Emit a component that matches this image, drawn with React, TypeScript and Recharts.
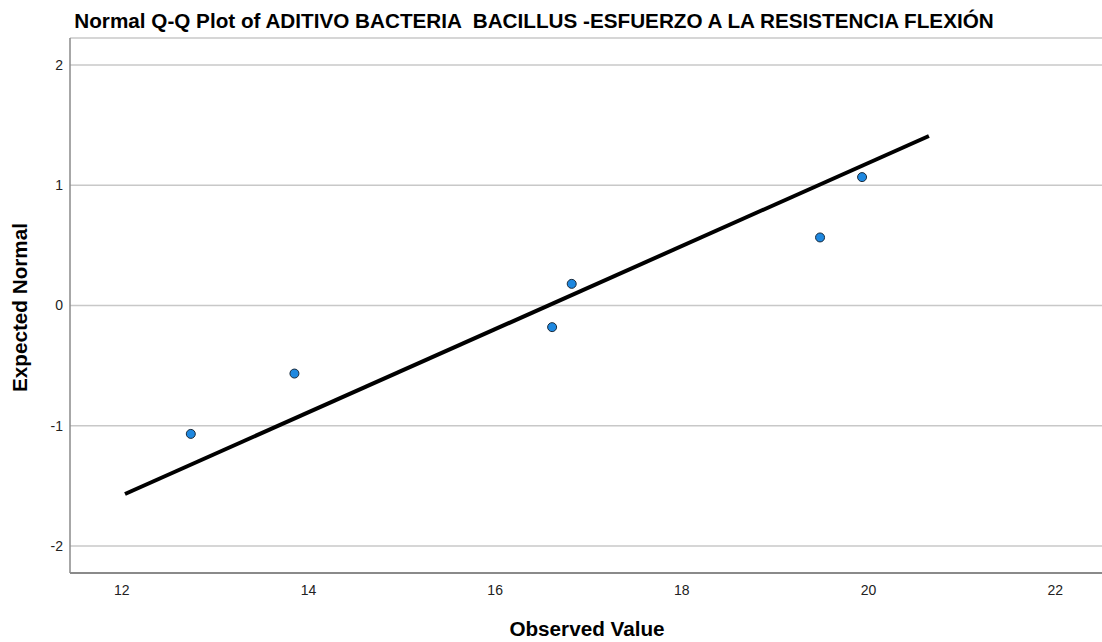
import { ScatterChart, Scatter, XAxis, YAxis, CartesianGrid } from "recharts";

// observed values and van der Waerden expected normal scores
const observed = [12.74, 13.85, 16.61, 16.82, 19.48, 19.93];
const expected = [-1.068, -0.566, -0.18, 0.18, 0.566, 1.068];

// reference line endpoints (observed, expected)
const lineX = [12.035, 20.646];
const lineY = [-1.568, 1.41];

const xTicks = [12, 14, 16, 18, 20, 22];
const yTicks = [-2, -1, 0, 1, 2];

const title = "Normal Q-Q Plot of ADITIVO BACTERIA  BACILLUS -ESFUERZO A LA RESISTENCIA FLEXIÓN";
const xLabel = "Observed Value";
const yLabel = "Expected Normal";

const points = observed.map((x, i) => ({ x, y: expected[i] }));
const lineData = lineX.map((x, i) => ({ x, y: lineY[i] }));

const font = "'Liberation Sans', Arial, sans-serif";

const Dot = (props: any) => (
  <circle cx={props.cx} cy={props.cy} r={4.5} fill="#1e88e0" stroke="#1a2a3a" strokeWidth={1} />
);

export default function App() {
  return (
    <div style={{ position: "absolute", left: 0, top: 0, width: 1102, height: 642, background: "#fff", fontFamily: font }}>
      <ScatterChart width={1102} height={642} margin={{ top: 38, right: 0, bottom: 0, left: 0 }}>
        <CartesianGrid horizontal vertical={false} stroke="#c8c8c8" strokeWidth={1.5} />
        <XAxis
          type="number"
          dataKey="x"
          domain={[11.446, 22.5]}
          ticks={xTicks}
          allowDataOverflow
          height={69}
          stroke="#8a8a8a"
          strokeWidth={2}
          tickLine={false}
          tickMargin={6}
          tick={{ fill: "#222", fontSize: 14, fontFamily: font }}
        />
        <YAxis
          type="number"
          dataKey="y"
          domain={[-2.225, 2.225]}
          ticks={yTicks}
          allowDataOverflow
          width={70}
          stroke="#8a8a8a"
          strokeWidth={1.5}
          tickLine={false}
          tickMargin={1}
          tick={{ fill: "#222", fontSize: 14, fontFamily: font }}
        />
        <Scatter
          data={lineData}
          line={{ stroke: "#000", strokeWidth: 4 }}
          shape={() => null}
          isAnimationActive={false}
        />
        <Scatter data={points} shape={Dot} isAnimationActive={false} />
      </ScatterChart>
      <svg
        width={1102}
        height={642}
        style={{ position: "absolute", left: 0, top: 0, pointerEvents: "none" }}
      >
        <g fontFamily={font} fontWeight="bold" fill="#000" fontSize={20.7}>
          <text x={534} y={28} textAnchor="middle" style={{ whiteSpace: "pre" }}>
            {title}
          </text>
          <text x={587} y={636} textAnchor="middle">
            {xLabel}
          </text>
          <text transform="translate(27,307.5) rotate(-90)" textAnchor="middle">
            {yLabel}
          </text>
        </g>
      </svg>
    </div>
  );
}
